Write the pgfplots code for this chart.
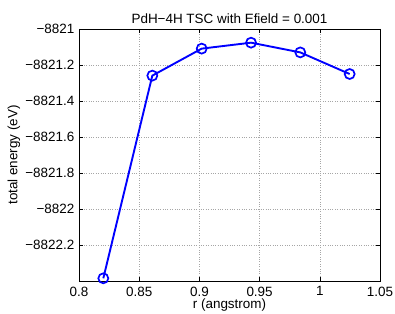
\documentclass[border=0pt]{standalone}
\usepackage{fontspec}
\setmainfont{Liberation Sans}
\usepackage{pgfplots}
\pgfplotsset{compat=1.18}
\begin{document}
\fontsize{13.5}{16}\selectfont
\begin{tikzpicture}[x=1bp,y=1bp]
\path[use as bounding box] (0,0) rectangle (395,314);
\begin{axis}[
  at={(79bp,33bp)}, anchor=south west,
  scale only axis, width=301bp, height=252bp,
  xmin=0.8, xmax=1.05, ymin=-8822.4, ymax=-8821,
  xtick={0.8,0.85,0.9,0.95,1,1.05},
  xticklabels={0.8,0.85,0.9,0.95,1,1.05},
  ytick={-8822.2,-8822,-8821.8,-8821.6,-8821.4,-8821.2,-8821},
  yticklabels={−8822.2,−8822,−8821.8,−8821.6,−8821.4,−8821.2,−8821},
  tick align=inside, major tick length=4bp,
  grid=major, major grid style={gray!70, dotted, line width=0.5pt},
  axis line style={line width=0.8pt},
  tick style={black, line width=0.5pt},
  title={PdH−4H TSC with Efield = 0.001},
  title style={yshift=-5bp},
  xlabel={r (angstrom)}, ylabel={total energy (eV)},
  xlabel style={yshift=7bp}, ylabel style={yshift=-4bp},
  xticklabel style={yshift=-1bp},
]
\addplot[blue, line width=1.9pt, mark=o, mark size=5bp, mark options={line width=1.7pt}]
coordinates {(0.8202,-8822.385) (0.8609,-8821.259) (0.9019,-8821.109) (0.9429,-8821.076) (0.9838,-8821.130) (1.0248,-8821.250)};
\end{axis}
\end{tikzpicture}
\end{document}
